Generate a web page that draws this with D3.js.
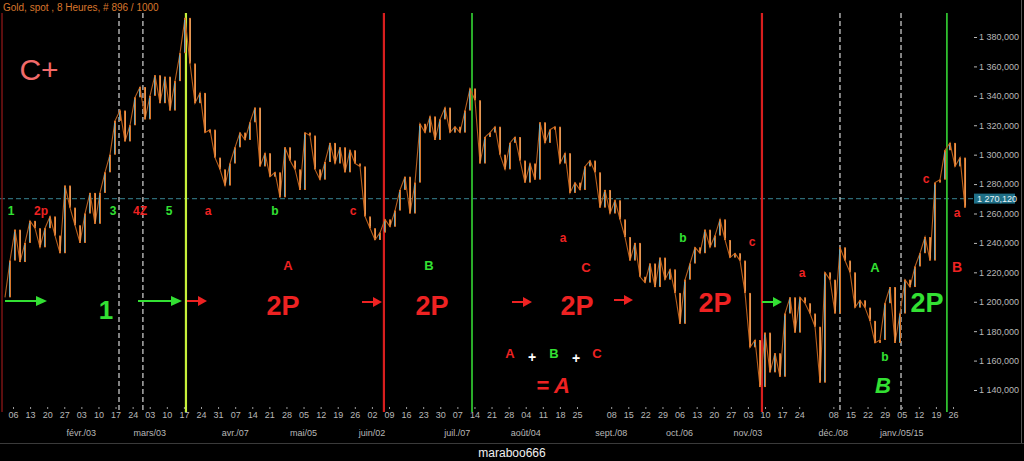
<!DOCTYPE html>
<html><head><meta charset="utf-8">
<script src="https://cdn.jsdelivr.net/npm/d3@7"></script>
<style>
html,body{margin:0;padding:0;background:#000;overflow:hidden;}
svg{display:block;font-family:"Liberation Sans",Arial,sans-serif;}
</style></head><body>
<svg id="c" width="1024" height="461"></svg>
<script>
// ---------- DATA ----------
const prices = [
 1203,1228,1249,1227,1240,1255,1250,1237,1250,1258,
 1245,1233,1279,1264,1252,1240,1260,1274,1253,1274,
 1288,1300,1323,1330,1309,1320,1339,1346,1324,1340,
 1354,1335,1353,1330,1350,1369,1393,1362,1335,1342,
 1315,1317,1298,1290,1279,1294,1305,1315,1310,1322,
 1332,1292,1301,1285,1288,1271,1305,1296,1290,1276,
 1315,1313,1290,1283,1295,1308,1294,1305,1288,1303,
 1294,1292,1258,1250,1242,1247,1256,1251,1262,1276,
 1285,1260,1281,1321,1315,1326,1310,1324,1332,1315,
 1319,1315,1330,1345,1337,1294,1312,1315,1319,1300,
 1290,1308,1312,1296,1281,1294,1283,1322,1308,1317,
 1319,1294,1301,1274,1281,1276,1292,1296,1288,1264,
 1276,1260,1269,1256,1244,1228,1240,1217,1213,1226,
 1210,1230,1215,1222,1206,1185,1215,1226,1237,1233,
 1249,1237,1245,1256,1242,1230,1233,1228,1206,1169,
 1174,1142,1179,1152,1165,1149,1192,1203,1179,1203,
 1199,1192,1183,1145,1220,1215,1192,1237,1228,1220,
 1196,1201,1196,1187,1172,1174,1199,1210,1172,1192,
 1215,1210,1224,1233,1244,1228,1281,1283,1303,1308,
 1292,1298,1264
];
const seriesStart = "2014-01-02T17:20:00Z";
const stepMinutes = 2949;
const lastPrice = 1270.12;
const priceTicks = [1140,1160,1180,1200,1220,1240,1260,1280,1300,1320,1340,1360,1380];
const weekTickDates = [
 "2014-01-06","2014-01-13","2014-01-20","2014-01-27","2014-02-03","2014-02-10","2014-02-17","2014-02-24",
 "2014-03-03","2014-03-10","2014-03-17","2014-03-24","2014-03-31","2014-04-07","2014-04-14","2014-04-21",
 "2014-04-28","2014-05-05","2014-05-12","2014-05-19","2014-05-26","2014-06-02","2014-06-09","2014-06-16",
 "2014-06-23","2014-06-30","2014-07-07","2014-07-14","2014-07-21","2014-07-28","2014-08-04","2014-08-11",
 "2014-08-18","2014-08-25","2014-09-08","2014-09-15","2014-09-22","2014-09-29","2014-10-06","2014-10-13",
 "2014-10-20","2014-10-27","2014-11-03","2014-11-10","2014-11-17","2014-11-24","2014-12-08","2014-12-15",
 "2014-12-22","2014-12-29","2015-01-05","2015-01-12","2015-01-19","2015-01-26"
];
const monthLabelDates = ["2014-02-03","2014-03-03","2014-04-07","2014-05-05","2014-06-02","2014-07-07",
 "2014-08-04","2014-09-08","2014-10-06","2014-11-03","2014-12-08","2015-01-05"];
const monthLabelTexts = ["févr./03","mars/03","avr./07","mai/05","juin/02","juil./07",
 "août/04","sept./08","oct./06","nov./03","déc./08","janv./05/15"];
const eventLineDates = ["2014-01-01T12:00:00Z","2014-02-18T10:00:00Z","2014-02-28T05:00:00Z","2014-03-17T20:00:00Z",
 "2014-06-06T22:00:00Z","2014-07-13T00:00:00Z","2014-11-08T18:00:00Z","2014-12-10T17:00:00Z",
 "2015-01-04T17:00:00Z","2015-01-23T12:00:00Z"];
const eventLineKinds = ["edge","dash","dash","yellow","red","green","red","dash","dash","green"];
const headerText = "Gold, spot , 8 Heures, # 896 / 1000";
const footerText = "maraboo666";

// ---------- STYLES / LAYOUT ----------
const RED = "#ee2222", GREEN = "#33e033", SALMON = "#f26a6a", WHITE = "#ffffff";
const lineStyle = {
  edge:{stroke:"#7a1414", w:1.5, dash:null},
  dash:{stroke:"#d8d8d8", w:1.2, dash:"5,3"},
  yellow:{stroke:"#c6f03a", w:2.2, dash:null},
  red:{stroke:"#d81e1e", w:2.2, dash:null},
  green:{stroke:"#2fbf2f", w:1.8, dash:null}
};
const labels = [
 {t:"C+", x:39, y:80, c:SALMON, s:30, w:"normal"},
 {t:"1", x:11, y:215, c:GREEN, s:12},
 {t:"2p", x:41, y:215, c:RED, s:12},
 {t:"3", x:113, y:215, c:GREEN, s:12},
 {t:"4Z", x:140, y:215, c:RED, s:12},
 {t:"5", x:169, y:215, c:GREEN, s:12},
 {t:"a", x:208, y:215, c:RED, s:12},
 {t:"b", x:275, y:215, c:GREEN, s:12},
 {t:"c", x:353, y:215, c:RED, s:12},
 {t:"A", x:288, y:270, c:RED, s:13},
 {t:"B", x:429, y:270, c:GREEN, s:13},
 {t:"2P", x:283, y:315, c:RED, s:27},
 {t:"2P", x:432, y:315, c:RED, s:27},
 {t:"2P", x:577, y:315, c:RED, s:27},
 {t:"2P", x:715, y:312, c:RED, s:27},
 {t:"2P", x:927, y:312, c:GREEN, s:27},
 {t:"1", x:106, y:319, c:GREEN, s:26},
 {t:"a", x:563, y:242, c:RED, s:12},
 {t:"C", x:586, y:272, c:RED, s:13},
 {t:"b", x:683, y:242, c:GREEN, s:12},
 {t:"A", x:510, y:358, c:RED, s:13},
 {t:"+", x:532, y:362, c:WHITE, s:14},
 {t:"B", x:554, y:358, c:GREEN, s:13},
 {t:"+", x:576, y:363, c:WHITE, s:14},
 {t:"C", x:597, y:358, c:RED, s:13},
 {t:"=", x:543, y:393, c:RED, s:22},
 {t:"A", x:562, y:393, c:RED, s:22, i:true},
 {t:"c", x:752, y:246, c:RED, s:12},
 {t:"a", x:802, y:277, c:RED, s:12},
 {t:"A", x:875, y:272, c:GREEN, s:13},
 {t:"b", x:885, y:361, c:GREEN, s:12},
 {t:"B", x:883, y:393, c:GREEN, s:22, i:true},
 {t:"c", x:926, y:183, c:RED, s:12},
 {t:"a", x:957, y:217, c:RED, s:12},
 {t:"B", x:957, y:272, c:RED, s:14}
];
const arrows = [
 {x1:5,x2:47,y:301,c:GREEN},{x1:138,x2:182,y:301,c:GREEN},{x1:187,x2:207,y:301,c:RED},
 {x1:362,x2:382,y:302,c:RED},{x1:512,x2:532,y:302,c:RED},{x1:614,x2:633,y:300,c:RED},
 {x1:762,x2:782,y:302,c:GREEN}
];

// ---------- CHART ----------
const svg = d3.select("#c");
svg.append("rect").attr("width",1024).attr("height",461).attr("fill","#000");

const pu = d3.utcParse("%Y-%m-%d");
const pt = d3.isoParse;
const x = d3.scaleUtc().domain([pu("2014-01-06"), pu("2015-01-26")]).range([13, 953]);
const y = d3.scaleLinear().domain([1140, 1380]).range([390, 37]);

const t0 = pt(seriesStart);
const series = prices.map((p,i)=>({t:d3.utcMinute.offset(t0, i*stepMinutes), p}));

// header
svg.append("text").attr("x",3).attr("y",11).attr("fill","#d8762c")
  .attr("font-size",10).text(headerText);

// last price dashed line
svg.append("line").attr("x1",0).attr("x2",974).attr("y1",y(lastPrice)).attr("y2",y(lastPrice))
  .attr("stroke","#2c6a76").attr("stroke-width",1.2).attr("stroke-dasharray","5,3");

// event lines
eventLineDates.forEach((d,i)=>{
  const st = lineStyle[eventLineKinds[i]];
  const xx = x(pt(d));
  svg.append("line").attr("x1",xx).attr("x2",xx).attr("y1",13).attr("y2",412)
    .attr("stroke",st.stroke).attr("stroke-width",st.w)
    .attr("stroke-dasharray",st.dash);
});

// price bars
const g = svg.append("g");
g.append("path").datum(series)
  .attr("d", d3.line().x(d=>x(d.t)).y(d=>y(d.p)))
  .attr("fill","none").attr("stroke","#b85e1c").attr("stroke-width",1.1);
series.forEach((d,i)=>{
  if(i===0) return;
  const prev = series[i-1].p;
  const up = d.p >= prev;
  const xx = x(d.t);
  const y1 = y(Math.max(prev,d.p)), y2 = y(Math.min(prev,d.p));
  g.append("rect").attr("x",xx-1).attr("y",y1).attr("width",2).attr("height",Math.max(1,y2-y1))
    .attr("fill","#d9762a");
  if(up){
    g.append("line").attr("x1",xx-0.5).attr("x2",xx-0.5).attr("y1",y1+2).attr("y2",y2-1)
      .attr("stroke","#6fa9b8").attr("stroke-width",1);
  } else {
    g.append("line").attr("x1",xx+0.5).attr("x2",xx+0.5).attr("y1",y1+1).attr("y2",y2-2)
      .attr("stroke","#e8a060").attr("stroke-width",0.8);
  }
});

// annotation labels
labels.forEach(l=>{
  svg.append("text").attr("x",l.x).attr("y",l.y).attr("text-anchor","middle")
    .attr("fill",l.c).attr("font-size",l.s).attr("font-weight",l.w||"bold")
    .attr("font-style",l.i?"italic":"normal").text(l.t);
});
arrows.forEach(a=>{
  const hl = (a.x2-a.x1)>30 ? 11 : 9;
  svg.append("line").attr("x1",a.x1).attr("x2",a.x2-hl+1).attr("y1",a.y).attr("y2",a.y)
    .attr("stroke",a.c).attr("stroke-width",2);
  svg.append("path").attr("d",`M${a.x2},${a.y}L${a.x2-hl},${a.y-5}L${a.x2-hl},${a.y+5}Z`).attr("fill",a.c);
});

// y axis (right)
const fr = d3.formatLocale({decimal:",", thousands:" ", grouping:[3], currency:["",""]});
const fmt = fr.format(",.3f");
const ya = svg.append("g").attr("transform","translate(974,0)")
  .call(d3.axisRight(y).tickValues(priceTicks).tickSize(3).tickPadding(2).tickFormat(fmt));
ya.select(".domain").remove();
ya.selectAll("line").attr("stroke","#b8b8b8");
ya.selectAll("text").attr("fill","#b8b8b8").attr("font-size",9).attr("font-family","Liberation Sans, Arial, sans-serif");

// last price box
const ly = y(lastPrice);
svg.append("rect").attr("x",974).attr("y",ly-5).attr("width",41).attr("height",10).attr("fill","#1f6f86");
svg.append("text").attr("x",977).attr("y",ly).attr("dy","0.34em").attr("fill","#e8f4f8")
  .attr("font-size",9).text(fmt(lastPrice));

// x axis
const xa = svg.append("g").attr("transform","translate(0,407)")
  .call(d3.axisBottom(x).tickValues(weekTickDates.map(pu)).tickSize(2).tickPadding(3).tickFormat(d3.utcFormat("%d")));
xa.select(".domain").remove();
xa.selectAll("line").attr("stroke","#9a9a9a");
xa.selectAll("text").attr("fill","#b8b8b8").attr("font-size",9).attr("font-family","Liberation Sans, Arial, sans-serif");

svg.append("g").selectAll("text").data(monthLabelDates).join("text")
  .attr("x",d=>x(pu(d))).attr("y",436).attr("text-anchor","middle")
  .attr("fill","#b8b8b8").attr("font-size",9).text((d,i)=>monthLabelTexts[i]);

// frame & footer
svg.append("line").attr("x1",0).attr("x2",1024).attr("y1",443.5).attr("y2",443.5).attr("stroke","#3a3a3a");
svg.append("line").attr("x1",1021.5).attr("x2",1021.5).attr("y1",0).attr("y2",443).attr("stroke","#555");
svg.append("text").attr("x",512).attr("y",457).attr("text-anchor","middle").attr("fill","#f0f0f0")
  .attr("font-size",12).text(footerText);
</script>
</body></html>
